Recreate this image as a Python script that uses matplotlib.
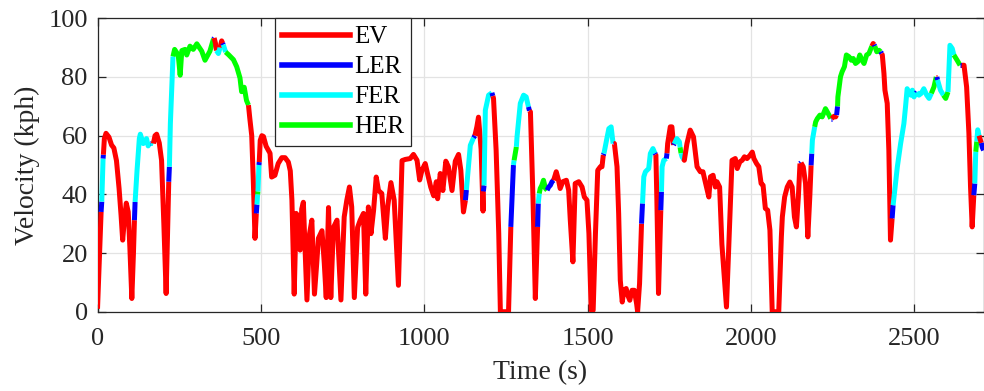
import matplotlib
matplotlib.use("Agg")
import matplotlib.pyplot as plt
from matplotlib.lines import Line2D

plt.rcParams["font.family"] = ["Liberation Serif", "DejaVu Serif"]

# Drive-cycle speed trace; mode[i] is the operating mode on the segment
# from point i to point i+1 (E = EV, L = LER, F = FER, H = HER).
time_s = [
    0, 11, 13, 17, 18, 21, 26, 35, 43, 50,
    58, 66, 72, 77, 82, 88, 94, 99, 105, 110,
    113, 115, 121, 128, 131, 140, 150, 155, 160, 163,
    171, 176, 181, 189, 196, 203, 210, 214, 218, 220,
    223, 227, 231, 236, 247, 253, 258, 268, 273, 283,
    293, 304, 319, 329, 344, 355, 357, 361, 364, 370,
    375, 380, 383, 385, 392, 401, 416, 426, 436, 441,
    449, 456, 462, 466, 472, 477, 482, 486, 488, 490,
    491, 494, 495, 498, 503, 508, 516, 523, 528, 533,
    543, 553, 564, 574, 584, 590, 595, 602, 608, 615,
    620, 625, 630, 641, 649, 656, 664, 671, 676, 687,
    694, 700, 707, 714, 722, 733, 745, 755, 763, 771,
    778, 786, 796, 804, 814, 821, 829, 837, 845, 853,
    860, 870, 881, 888, 898, 908, 921, 932, 942, 957,
    967, 978, 986, 993, 1003, 1010, 1020, 1029, 1037, 1041,
    1049, 1057, 1066, 1074, 1085, 1095, 1105, 1112, 1120, 1126,
    1129, 1141, 1151, 1155, 1161, 1166, 1174, 1180, 1181, 1183, 1187,
    1197, 1207, 1210, 1212, 1220, 1228, 1233, 1258, 1265, 1273,
    1275, 1282, 1284, 1294, 1304, 1312, 1319, 1322, 1325, 1333,
    1340, 1347, 1349, 1352, 1355, 1360, 1365, 1371, 1376, 1381,
    1386, 1391, 1396, 1404, 1411, 1416, 1424, 1435, 1442, 1447,
    1455, 1462, 1473, 1483, 1490, 1498, 1504, 1511, 1517, 1524,
    1531, 1539, 1544, 1548, 1550, 1558, 1565, 1572, 1578, 1580,
    1582, 1590, 1595, 1600, 1606, 1611, 1618, 1623, 1629, 1636,
    1643, 1650, 1653, 1659, 1665, 1668, 1672, 1677, 1687, 1692,
    1700, 1706, 1708, 1709, 1712, 1717, 1724, 1726, 1728, 1733,
    1741, 1743, 1745, 1753, 1758, 1763, 1765, 1773, 1781, 1783,
    1786, 1789, 1794, 1796, 1804, 1814, 1824, 1835, 1845, 1853,
    1860, 1871, 1876, 1884, 1891, 1896, 1904, 1911, 1925, 1932,
    1942, 1952, 1958, 1966, 1973, 1980, 1988, 1997, 2004, 2009,
    2017, 2024, 2031, 2037, 2044, 2051, 2058, 2065, 2085, 2093,
    2096, 2103, 2111, 2119, 2126, 2133, 2139, 2145, 2150, 2153,
    2160, 2167, 2174, 2180, 2184, 2186, 2188, 2195, 2198, 2203,
    2211, 2218, 2228, 2239, 2244, 2247, 2254, 2259, 2262, 2265,
    2266, 2274, 2279, 2286, 2292, 2300, 2307, 2313, 2320, 2327,
    2333, 2340, 2346, 2354, 2361, 2370, 2374, 2377, 2379, 2385,
    2392, 2397, 2400, 2402, 2407, 2410, 2417, 2422, 2427, 2432,
    2435, 2439, 2448, 2458, 2468, 2473, 2478, 2483, 2489, 2494,
    2499, 2505, 2508, 2514, 2521, 2529, 2538, 2545, 2552, 2560,
    2567, 2569, 2571, 2580, 2589, 2596, 2603, 2609, 2616, 2621,
    2631, 2640, 2645, 2652, 2660, 2667, 2672, 2677, 2682, 2685,
    2688, 2691, 2694, 2698, 2705, 2708, 2712,
]

speed_kph = [
    1, 34, 37.5, 52.2, 53.5, 59, 60.8, 59.5, 56.8, 55.8,
    51.5, 42, 33, 24.4, 31, 37, 34, 22, 4.5, 20,
    31.2, 37.4, 48.2, 59, 60.5, 57.3, 59, 56.5, 57.5, 57.5,
    57.3, 60, 60.5, 57.5, 51.6, 30, 6.2, 25, 44.3, 49.4,
    64.2, 75.5, 87, 89.4, 87.5, 80.6, 89, 89.4, 87.5, 90.5,
    89.4, 91.3, 88.8, 85.7, 88.8, 93, 93.3, 91.5, 89, 88,
    90, 92.3, 91.5, 91, 88.5, 87.6, 85.9, 83.5, 79.7, 75,
    76.5, 72, 70.4, 66, 60, 44, 25, 33.5, 36.5, 40,
    41, 50, 51, 58.4, 60, 59.7, 56.4, 55, 54, 45.9,
    46.5, 50.5, 52.5, 52.5, 51, 48, 38, 6, 33.5, 32.3,
    21, 35, 37.3, 4, 26.6, 31.2, 6, 16.6, 25, 27.6,
    16.6, 4.8, 35.5, 4.8, 28.7, 31.2, 4, 32.3, 38, 42.5,
    35.7, 4.8, 28.7, 31.2, 33.5, 6, 35.7, 26.6, 34.6, 45.9,
    41.3, 40.3, 25, 35.7, 44, 38, 9, 51.5, 51.9, 52.2,
    53.6, 51.6, 44.9, 48.2, 50.5, 47.1, 42.4, 39.5, 44.3, 38.5,
    47.1, 41.3, 51.3, 49.4, 41.3, 51.3, 53.6, 48.2, 34, 38,
    41.5, 56.7, 59.3, 60, 63, 66.3, 55.4, 34.3, 41, 43, 68.7,
    73.8, 74.6, 73.5, 72.7, 55, 26.7, 0, 0, 28.9, 50,
    51.6, 56.2, 59.6, 71, 73.8, 73.2, 69.8, 68.5, 68.1, 38,
    4.5, 28.9, 36.9, 40.3, 42, 43.1, 44.8, 42, 41.4, 42.5,
    43.1, 44.3, 44.8, 47.7, 44.8, 42, 44.3, 44.8, 41.4, 31.2,
    17, 43.7, 44.3, 42.5, 39.1, 38, 26.7, 0.5, 0.5, 26.7,
    48.2, 49.4, 49.4, 53.4, 53.9, 58.5, 62.4, 63, 57.3, 57.3,
    57.3, 49.4, 33.5, 10.7, 3.3, 7.3, 7.9, 5.6, 3.9, 7.3,
    7.3, 2.7, 0, 9.6, 30, 36.9, 46, 47.7, 48.8, 53.9,
    55.6, 54, 53.6, 53.4, 38, 6.2, 34.6, 40.9, 49.4, 51.6,
    52.2, 54, 57.3, 63, 63, 56.8, 57.2, 59, 57.9, 56,
    54, 52.8, 52, 51.6, 57.3, 61.9, 59.6, 49.4, 47.7, 47.7,
    44.3, 39.1, 46, 46.5, 42.5, 44.3, 42.5, 23, 1.6, 22.1,
    51.6, 52.2, 48.8, 51.1, 51.6, 52.8, 52.2, 53.3, 54.4, 52.2,
    50.5, 49.4, 43.7, 43.1, 35.2, 34.6, 27.8, 0, 0, 25.5,
    32.3, 39.1, 42.5, 44.2, 42.5, 32.3, 28.9, 39.1, 50.5, 50.8,
    49.4, 43.7, 25.5, 39.1, 49.9, 53.9, 58.5, 63, 64.7, 65.8,
    67, 66.4, 69.2, 67, 65.8, 65.8, 66.6, 66.4, 67, 70,
    73.2, 80.1, 81.8, 83.5, 87.5, 86.9, 85.7, 86.3, 84.6, 85.2,
    87.5, 85.7, 84.6, 87.5, 88, 90.5, 91.4, 91, 90.5, 88.6,
    89.1, 88.6, 88, 87.5, 81.2, 75.5, 71, 55, 24.4, 31.8,
    36.3, 40.3, 49.4, 57.3, 64.1, 69.8, 76, 74.9, 73.8, 75.5,
    73.2, 74.5, 74.9, 73.8, 74.4, 76, 73.8, 72.7, 74.4, 76.6,
    80, 80, 79, 75.5, 73.8, 72.7, 74.9, 90.8, 89.7, 87.5,
    85.7, 84, 84, 84, 76.6, 60.8, 42.5, 28.9, 39.7, 43.7,
    54.5, 58, 62, 60, 57.5, 56, 55,
]

mode = (
    "ELFLEEEEEE"
    "EEEEEEEEEE"
    "LFFFFFFFLF"
    "EEEEEEEELF"
    "FFHHHHHHHH"
    "HHHHHLEEFF"
    "EELFHHHHHH"
    "HHEEEEELFH"
    "FLEEEEEEEE"
    "EEEEEEEEEE"
    "EEEEEEEEEE"
    "EEEEEEEEEE"
    "EEEEEEEEEE"
    "EEEEEEEEEE"
    "EEEEEEEEEE"
    "EEEEEEEEEL"
    "FFLEEEEELFF"
    "FLEEEEEELF"
    "HFFFFFLEEE"
    "ELFHHHHHLL"
    "LLEEEEEEEE"
    "EEEEEEEEEE"
    "EEELFFFFLE"
    "EEEEEEEEEE"
    "EEEELFFFFF"
    "FLEEEELFFF"
    "LEEEELFFFH"
    "FFEEEEEEEE"
    "EEEEEEEEEE"
    "EEEEEEEEEE"
    "EEEEEEEEEE"
    "EEEEEEEELE"
    "EEEELFFHHH"
    "HHHHLEEELH"
    "HHHHHHHHHH"
    "HHHHHEELHH"
    "HLEEEEEEEL"
    "FFFFFFFFFF"
    "FLFFFFFFHH"
    "ELFFHHFFFH"
    "HLEEEEEELF"
    "HFFELLL"
)

mode_names = {"E": "EV", "L": "LER", "F": "FER", "H": "HER"}
mode_colors = {"E": "#ff0000", "L": "#0000ff", "F": "#00ffff", "H": "#00ff00"}

ink = "#262626"
fig = plt.figure(figsize=(9.84, 3.91), dpi=100)
ax = fig.add_axes([0.0991, 0.2028, 0.9005, 0.7504])

# draw each run of identical mode as one polyline
n = len(time_s)
i = 0
while i < n - 1:
    j = i
    while j < n - 1 and mode[j] == mode[i]:
        j += 1
    ax.plot(time_s[i:j + 1], speed_kph[i:j + 1], color=mode_colors[mode[i]],
            lw=3.6, solid_joinstyle="round", solid_capstyle="butt", zorder=3)
    i = j

ax.set_xlim(0, 2712)
ax.set_ylim(0, 100)
ax.set_xticks([0, 500, 1000, 1500, 2000, 2500])
ax.set_yticks([0, 20, 40, 60, 80, 100])
ax.grid(True, color="#e3e3e3", lw=0.9)
ax.set_axisbelow(True)
ax.tick_params(direction="in", length=6, width=0.9, color=ink, labelcolor=ink,
               labelsize=19, top=True, right=True)
ax.tick_params(axis="x", pad=12)
ax.tick_params(axis="y", pad=7)
for s in ax.spines.values():
    s.set_color(ink)
    s.set_linewidth(0.9)

ax.set_xlabel("Time (s)", fontsize=20, color=ink, labelpad=7)
ax.set_ylabel("Velocity (kph)", fontsize=20, color=ink, labelpad=6)

handles = [Line2D([], [], color=mode_colors[k], lw=4) for k in "ELFH"]
leg = ax.legend(handles, [mode_names[k] for k in "ELFH"], loc="upper left",
                bbox_to_anchor=(0.2003, 1.0), borderaxespad=0, fontsize=18,
                handlelength=2.7, handletextpad=0.15, labelspacing=0.3,
                borderpad=0.3, fancybox=False, framealpha=1, edgecolor=ink)
leg.get_frame().set_linewidth(0.9)
for t in leg.get_texts():
    t.set_color("#000000")

fig.savefig("out.png", dpi=100)
